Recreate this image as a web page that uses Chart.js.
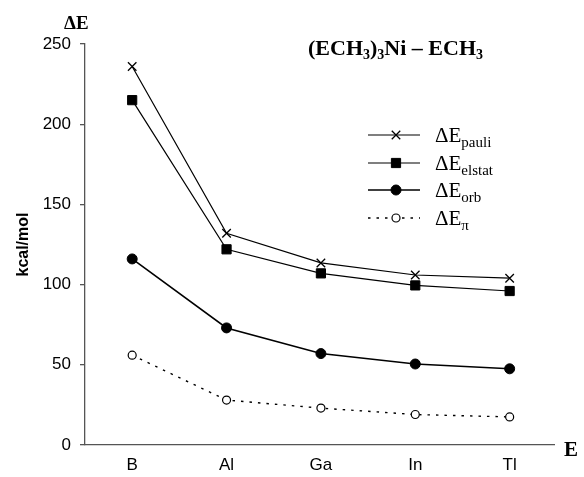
<!DOCTYPE html>
<html><head><meta charset="utf-8">
<script src="https://cdn.jsdelivr.net/npm/chart.js@4"></script>
<style>html,body{margin:0;padding:0;background:#fff}#wrap{width:584px;height:477px}</style>
</head><body><div id="wrap"><canvas id="c" width="584" height="477"></canvas></div>
<script>
const categories = ['B', 'Al', 'Ga', 'In', 'Tl'];
const pauli  = [236, 132, 113.5, 106, 104];
const elstat = [215, 122, 107, 99.5, 96];
const orb    = [116, 73, 57, 50.5, 47.5];
const pi     = [56, 28, 23, 19, 17.5];
const yTicks = [0, 50, 100, 150, 200, 250];

const pts = arr => arr.map((v, i) => ({x: i, y: v}));
const serif = '"Liberation Serif", "Times New Roman", serif';
const sans = '"Liberation Sans", Arial, sans-serif';

function drawSub(ctx, parts, x, y, big, small, drop) {
  let cx = x;
  for (const [t, isSub] of parts) {
    ctx.font = (isSub ? small : big);
    ctx.fillText(t, cx, y + (isSub ? drop : 0));
    cx += ctx.measureText(t).width;
  }
}

const textPlugin = {
  id: 'texts',
  afterDraw(chart) {
    const ctx = chart.ctx;
    ctx.save();
    ctx.fillStyle = '#000';
    ctx.textBaseline = 'alphabetic';
    ctx.textAlign = 'left';
    ctx.font = 'bold 19px ' + serif;
    ctx.fillText('ΔE', 64, 29);
    ctx.font = 'bold 21px ' + serif;
    ctx.fillText('E', 564, 456);
    drawSub(ctx, [['(ECH', 0], ['3', 1], [')', 0], ['3', 1], ['Ni – ECH', 0], ['3', 1]],
      308, 55, 'bold 22px ' + serif, 'bold 14px ' + serif, 4);
    const items = [
      {sub: 'pauli', ds: 0, y: 135},
      {sub: 'elstat', ds: 1, y: 163},
      {sub: 'orb', ds: 2, y: 190},
      {sub: 'π', ds: 3, y: 218}
    ];
    for (const it of items) {
      const ds = chart.data.datasets[it.ds];
      ctx.save();
      ctx.strokeStyle = '#000';
      ctx.lineWidth = ds.borderWidth;
      ctx.setLineDash(ds.borderDash || []);
      ctx.beginPath(); ctx.moveTo(368, it.y); ctx.lineTo(420, it.y); ctx.stroke();
      ctx.setLineDash([]);
      ctx.fillStyle = ds.pointBackgroundColor; ctx.strokeStyle = '#000'; ctx.lineWidth = ds.pointBorderWidth;
      Chart.helpers.drawPoint(ctx, {pointStyle: ds.pointStyle, radius: ds.pointRadius, rotation: 0, borderWidth: ds.pointBorderWidth}, 396, it.y);
      ctx.restore();
      ctx.fillStyle = '#000';
      drawSub(ctx, [['ΔE', 0], [it.sub, 1]], 435, it.y + 7, '21px ' + serif, '15px ' + serif, 5);
    }
    ctx.restore();
  }
};

const common = {borderColor: '#000', pointBorderColor: '#000', tension: 0, clip: false};
new Chart(document.getElementById('c'), {
  type: 'line',
  data: {
    datasets: [
      Object.assign({label: 'ΔEpauli', data: pts(pauli), borderWidth: 1.2, pointStyle: 'crossRot', pointRadius: 6, pointBorderWidth: 1.3, pointBackgroundColor: '#000'}, common),
      Object.assign({label: 'ΔEelstat', data: pts(elstat), borderWidth: 1.2, pointStyle: 'rect', pointRadius: 6.5, pointBorderWidth: 1, pointBackgroundColor: '#000'}, common),
      Object.assign({label: 'ΔEorb', data: pts(orb), borderWidth: 1.6, pointStyle: 'circle', pointRadius: 5, pointBorderWidth: 1, pointBackgroundColor: '#000'}, common),
      Object.assign({label: 'ΔEπ', data: pts(pi), borderWidth: 1.4, borderDash: [2.5, 6], pointStyle: 'circle', pointRadius: 4, pointBorderWidth: 1.2, pointBackgroundColor: '#fff'}, common)
    ]
  },
  options: {
    responsive: false, animation: false, devicePixelRatio: 1,
    layout: {padding: {left: 0, right: 30, top: 44, bottom: 0}},
    plugins: {legend: {display: false}, tooltip: {enabled: false}},
    scales: {
      x: {
        type: 'linear', min: -0.5, max: 4.47,
        afterBuildTicks: s => { s.ticks = categories.map((c, i) => ({value: i})); },
        afterFit: s => { s.height = 32; },
        grid: {display: true, drawOnChartArea: false, drawTicks: false, color: '#555'},
        border: {display: true, color: '#555', width: 1.3},
        ticks: {callback: v => categories[v], color: '#000', padding: 10, font: {family: sans, size: 17}, maxRotation: 0, autoSkip: false}
      },
      y: {
        min: 0, max: 250,
        afterBuildTicks: s => { s.ticks = yTicks.map(v => ({value: v})); },
        afterFit: s => { s.width = 85; },
        grid: {drawOnChartArea: false, drawTicks: true, tickLength: 5, color: '#555', lineWidth: 1.3},
        border: {display: true, color: '#555', width: 1.3},
        ticks: {color: '#000', padding: 9, font: {family: sans, size: 17}},
        title: {display: true, text: 'kcal/mol', color: '#000', font: {family: sans, size: 16, weight: 'bold'}, padding: {top: 14, bottom: 0}}
      }
    }
  },
  plugins: [textPlugin]
});
</script></body></html>
